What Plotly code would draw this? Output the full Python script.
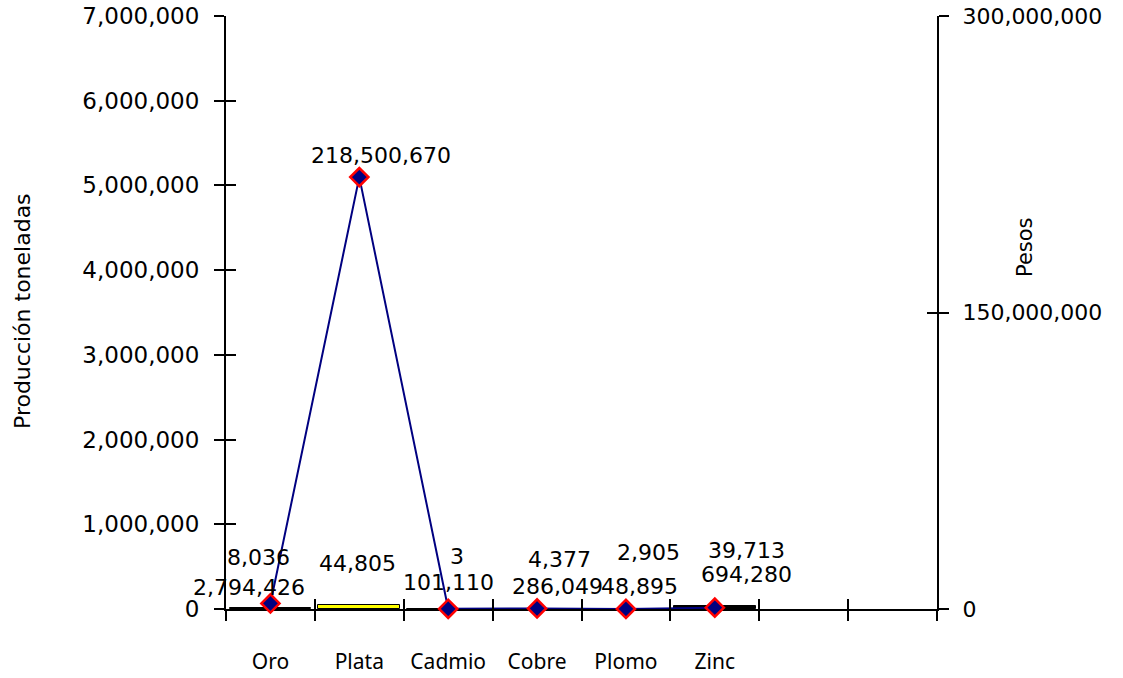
import plotly.graph_objects as go

# ---- data ----
categories = ["Oro", "Plata", "Cadmio", "Cobre", "Plomo", "Zinc"]
toneladas = [8036, 44805, 3, 4377, 2905, 39713]          # bars, left axis
pesos = [2794426, 218500670, 101110, 286049, 48895, 694280]  # line, right axis
n_slots = 8  # category slots on the x axis (two empty at the end)

left_tickvals = [0, 1000000, 2000000, 3000000, 4000000, 5000000, 6000000, 7000000]
right_tickvals = [0, 150000000, 300000000]

# ---- styles / label offsets (pixels) ----
bar_colors = ["#FFFF00", "#FFFF00", "#FFFF00", "#FFFF00", "#FFFF00", "#000000"]
bar_label_shift = [(-12, 51), (-2, 42), (9, 53), (22, 49), (23, 56), (32, 55)]
line_label_shift = [(-21, 16), (22, 22), (0, 26), (20, 22), (14, 22), (32, 33)]

FONT = "DejaVu Sans"
CAT_FONT = "Noto Sans"
xpos = [i + 0.5 for i in range(len(categories))]

W, H = 1123, 678
ML, MT = 226, 16
MR = W - 937
MB = H - 609
pw, ph = W - ML - MR, H - MT - MB

fig = go.Figure()

fig.add_trace(go.Bar(
    x=xpos, y=toneladas, width=0.92,
    marker=dict(color=bar_colors, line=dict(color="black", width=1)),
    yaxis="y", xaxis="x", showlegend=False, hoverinfo="skip",
))

fig.add_trace(go.Scatter(
    x=xpos, y=pesos, mode="lines+markers",
    line=dict(color="#000080", width=2),
    marker=dict(symbol="diamond", size=14, color="#000080",
                line=dict(color="#FF0000", width=2.5)),
    yaxis="y2", xaxis="x", showlegend=False, cliponaxis=False, hoverinfo="skip",
))

annotations = []
for i, v in enumerate(toneladas):
    dx, dy = bar_label_shift[i]
    annotations.append(dict(x=xpos[i], y=v, xref="x", yref="y", text=f"{v:,}",
                            showarrow=False, xshift=dx, yshift=dy,
                            font=dict(family=FONT, size=22, color="black")))
for i, v in enumerate(pesos):
    dx, dy = line_label_shift[i]
    annotations.append(dict(x=xpos[i], y=v, xref="x", yref="y2", text=f"{v:,}",
                            showarrow=False, xshift=dx, yshift=dy,
                            font=dict(family=FONT, size=22, color="black")))


def px_to_paper(x, y):
    return (x - ML) / pw, (H - MB - y) / ph


tx, ty = px_to_paper(22, 311)
annotations.append(dict(x=tx, y=ty, xref="paper", yref="paper", text="Producción toneladas",
                        showarrow=False, textangle=-90, xanchor="center", yanchor="middle",
                        font=dict(family=FONT, size=22, color="black")))
px_, py_ = px_to_paper(1025, 247)
annotations.append(dict(x=px_, y=py_, xref="paper", yref="paper", text="Pesos",
                        showarrow=False, textangle=-90, xanchor="center", yanchor="middle",
                        font=dict(family=FONT, size=21, color="black")))

boundaries = list(range(n_slots + 1))
tick_style = dict(tickcolor="black", tickwidth=2, ticklen=10)

fig.update_layout(
    width=W, height=H,
    margin=dict(l=ML, r=MR, t=MT, b=MB, autoexpand=False),
    paper_bgcolor="white", plot_bgcolor="white",
    font=dict(family=FONT, color="black"),
    bargap=0,
    annotations=annotations,
    xaxis=dict(
        range=[0, n_slots], tickmode="array", tickvals=xpos, ticktext=categories,
        ticks="", showline=True, linecolor="black", linewidth=2,
        showgrid=False, zeroline=False, layer="below traces",
        tickfont=dict(family=CAT_FONT, size=21, color="black"),
        ticklabelstandoff=33,
        minor=dict(tickmode="array", tickvals=boundaries, ticks="outside", **tick_style),
    ),
    xaxis2=dict(
        range=[0, n_slots], overlaying="x", anchor="y", side="bottom",
        tickmode="array", tickvals=boundaries, ticks="inside", **tick_style,
        showticklabels=False, showline=False, showgrid=False, zeroline=False,
    ),
    yaxis=dict(
        range=[0, 7000000], tickmode="array", tickvals=left_tickvals, tickformat=",",
        ticks="outside", **tick_style, showline=True, linecolor="black", linewidth=2,
        showgrid=False, zeroline=False, layer="below traces",
        tickfont=dict(family=FONT, size=23, color="black"), ticklabelstandoff=10,
        ticklabeloverflow="allow",
    ),
    yaxis3=dict(
        range=[0, 7000000], overlaying="y", side="left", anchor="x",
        tickmode="array", tickvals=left_tickvals, ticks="inside", **tick_style,
        showticklabels=False, showline=False, showgrid=False, zeroline=False,
    ),
    yaxis2=dict(
        range=[0, 300000000], overlaying="y", side="right", anchor="x",
        tickmode="array", tickvals=right_tickvals, tickformat=",",
        ticks="outside", **tick_style, showline=True, linecolor="black", linewidth=2,
        showgrid=False, zeroline=False, layer="below traces",
        tickfont=dict(family=FONT, size=22, color="black"), ticklabelstandoff=9,
        ticklabeloverflow="allow",
    ),
    yaxis4=dict(
        range=[0, 300000000], overlaying="y", side="right", anchor="x",
        tickmode="array", tickvals=right_tickvals, ticks="inside", **tick_style,
        showticklabels=False, showline=False, showgrid=False, zeroline=False,
    ),
)

# invisible helper traces so the overlay tick axes are drawn
fig.add_trace(go.Scatter(x=[None], y=[None], xaxis="x2", yaxis="y", showlegend=False, hoverinfo="skip"))
fig.add_trace(go.Scatter(x=[None], y=[None], xaxis="x", yaxis="y3", showlegend=False, hoverinfo="skip"))
fig.add_trace(go.Scatter(x=[None], y=[None], xaxis="x", yaxis="y4", showlegend=False, hoverinfo="skip"))

# remove the default page margin so the figure starts at the window's top-left corner
fig.write_html("out.html", config={"displayModeBar": False},
               post_script="document.body.style.margin='0';")
